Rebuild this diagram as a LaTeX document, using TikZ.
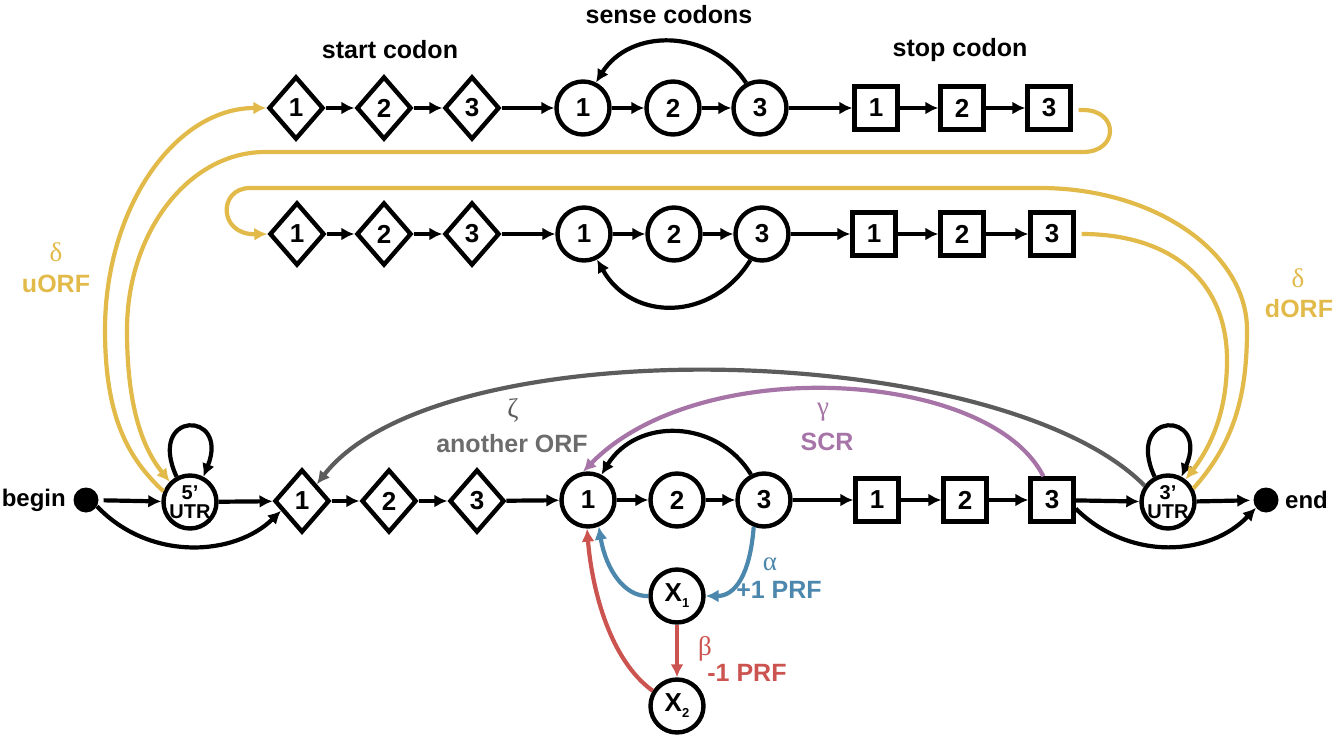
\documentclass[tikz,border=0pt]{standalone}
\usepackage{fontspec}
\setmainfont{Liberation Sans}
\newfontfamily\grk{Liberation Serif}
\usetikzlibrary{shapes.geometric,arrows.meta}
\definecolor{cy}{RGB}{226,186,74}
\definecolor{cg}{RGB}{92,92,92}
\definecolor{cp}{RGB}{166,116,166}
\definecolor{cb}{RGB}{76,135,174}
\definecolor{cr}{RGB}{204,84,80}
\begin{document}
\begin{tikzpicture}[x=1pt,y=-1pt,
  base/.style={draw, line width=4.4pt, inner sep=0pt, font=\fontsize{26}{26}\selectfont\bfseries},
  dia/.style={base, diamond, minimum width=55pt, minimum height=63pt},
  circ/.style={base, circle, minimum size=53pt},
  sq/.style={base, rectangle, minimum size=43pt},
  utr/.style={base, circle, minimum size=53pt, align=center, font=\fontsize{20}{19}\selectfont\bfseries},
  dot/.style={circle, fill, minimum size=25pt, inner sep=0pt},
  tip/.tip={Latex[length=13pt,width=13pt]},
  ar/.style={-tip, line width=4.2pt},
  yl/.style={line width=4.2pt, color=cy},
  lbl/.style={inner sep=0pt, font=\fontsize{25}{25}\selectfont\bfseries},
  glbl/.style={inner sep=0pt, font=\fontsize{27}{27}\selectfont\grk},
]
\useasboundingbox (0,0) rectangle (1333,738);

% row 1
\node[dia] (r1d1) at (296,108) {1};
\node[dia] (r1d2) at (384,108) {2};
\node[dia] (r1d3) at (472,108) {3};
\node[circ] (r1c1) at (583,108) {1};
\node[circ] (r1c2) at (673,108) {2};
\node[circ] (r1c3) at (760,108) {3};
\node[sq] (r1s1) at (876,108) {1};
\node[sq] (r1s2) at (962,108) {2};
\node[sq] (r1s3) at (1049,108) {3};
% row 2
\node[dia] (r2d1) at (297,234) {1};
\node[dia] (r2d2) at (384,234) {2};
\node[dia] (r2d3) at (472,234) {3};
\node[circ] (r2c1) at (584,234) {1};
\node[circ] (r2c2) at (674,234) {2};
\node[circ] (r2c3) at (762,234) {3};
\node[sq] (r2s1) at (874,234) {1};
\node[sq] (r2s2) at (962,234) {2};
\node[sq] (r2s3) at (1052,234) {3};
% row 3
\node[dot] (begin) at (86,500) {};
\node[utr] (utr5) at (190,502) {5’\\UTR};
\node[dia] (r3d1) at (302,501) {1};
\node[dia] (r3d2) at (389,501) {2};
\node[dia] (r3d3) at (477,501) {3};
\node[circ] (r3c1) at (588,500) {1};
\node[circ] (r3c2) at (677,500) {2};
\node[circ] (r3c3) at (764,500) {3};
\node[sq] (r3s1) at (877,500) {1};
\node[sq] (r3s2) at (965,500) {2};
\node[sq] (r3s3) at (1052,500) {3};
\node[utr] (utr3) at (1168,502) {3’\\UTR};
\node[dot] (end) at (1266,500) {};
\node[circ] (x1) at (677,596) {X\raisebox{-6pt}{\fontsize{13}{13}\selectfont 1}};
\node[circ] (x2) at (677,706) {X\raisebox{-6pt}{\fontsize{13}{13}\selectfont 2}};

% labels
\node[lbl] (tstart) at (390,50) {start codon};
\node[lbl] (tsense) at (669,15) {sense codons};
\node[lbl] (tstop) at (960,50) {stop codon};
\node[lbl, anchor=east, font=\fontsize{24}{24}\selectfont\bfseries] (tbegin) at (66,500) {begin};
\node[lbl, anchor=west, font=\fontsize{24}{24}\selectfont\bfseries] (tend) at (1285,500) {end};
\node[glbl, text=cy] (gd1) at (56,252) {δ};
\node[lbl, text=cy] (tuorf) at (56,284) {uORF};
\node[glbl, text=cy] (gd2) at (1298,278) {δ};
\node[lbl, text=cy] (tdorf) at (1299,309) {dORF};
\node[glbl, text=cg] (gz) at (513,410) {ζ};
\node[lbl, text=cg!90] (tanother) at (512,444) {another ORF};
\node[glbl, text=cp] (gg) at (823,412) {γ};
\node[lbl, text=cp] (tscr) at (827,442) {SCR};
\node[glbl, text=cb] (ga) at (770,564) {α};
\node[lbl, text=cb] (tprf1) at (779,590) {+1 PRF};
\node[glbl, text=cr] (gb) at (705,649) {β};
\node[lbl, text=cr] (tprf2) at (747,673) {-1 PRF};

% chains
\foreach \r in {1,2,3}{
  \draw[ar] (r\r d1) -- (r\r d2);
  \draw[ar] (r\r d2) -- (r\r d3);
  \draw[ar] (r\r d3) -- (r\r c1);
  \draw[ar] (r\r c1) -- (r\r c2);
  \draw[ar] (r\r c2) -- (r\r c3);
  \draw[ar] (r\r c3) -- (r\r s1);
  \draw[ar] (r\r s1) -- (r\r s2);
  \draw[ar] (r\r s2) -- (r\r s3);
}
% sense codon loops
\draw[ar] (r1c3.119) .. controls (710,28) and (630,28) .. (r1c1.63);
\draw[ar] (r2c3.-114) .. controls (712,322) and (632,322) .. (r2c1.-63);
\draw[ar] (r3c3.117) .. controls (716,418) and (636,418) .. (r3c1.62);

% row 3 extras
\draw[ar, shorten <=5pt] (begin) -- (utr5);
\draw[ar] (begin.-30) .. controls (150,562) and (235,556) .. (r3d1.205);
\draw[ar] (utr5) -- (r3d1);
\draw[ar] (utr5.118) .. controls (146,410) and (230,410) .. (utr5.62);
\draw[ar] (r3s3) -- (utr3);
\draw[ar] (r3s3.-20) .. controls (1130,562) and (1210,556) .. (end.218);
\draw[ar, shorten >=3pt] (utr3) -- (end);
\draw[ar] (utr3.118) .. controls (1124,410) and (1210,410) .. (utr3.62);

% zeta
\draw[ar, color=cg] (utr3.145) .. controls (1000,340) and (440,326) .. (r3d1.north east);
% gamma
\draw[ar, color=cp] (r3s3.110) .. controls (990,370) and (700,352) .. (r3c1.100);
% alpha
\draw[ar, color=cb] (r3c3.-111) .. controls (750,575) and (735,596) .. (x1.east);
\draw[ar, color=cb] (x1.west) .. controls (625,597) and (606,570) .. (r3c1.-68);
% beta
\draw[ar, color=cr] (x1) -- (x2);
\draw[ar, color=cr] (x2.148) .. controls (610,660) and (592,590) .. (r3c1.-92);

% yellow
\coordinate (ya) at (105,330);
\draw[yl, -tip] (utr5.158) .. controls (130,460) and (105,420) .. (ya)
   .. controls (105,208) and (175,108) .. (r1d1.west);
\coordinate (yb1) at (1083,110);
\coordinate (yb2) at (1083,152);
\coordinate (yb3) at (265,152);
\coordinate (yb4) at (127,330);
\draw[yl, -tip] (r1s3.east) ++(6,2) coordinate (yb0) -- (yb1)
   .. controls (1119,110) and (1119,152) .. (yb2) -- (yb3)
   .. controls (189,152) and (127,232) .. (yb4)
   .. controls (127,400) and (140,445) .. (utr5.135);
\coordinate (yc1) at (1247,330);
\coordinate (yc2) at (1040,188);
\coordinate (yc3) at (250,188);
\draw[yl, -tip] (utr3.28) .. controls (1232,445) and (1247,400) .. (yc1)
   .. controls (1247,252) and (1154,188) .. (yc2) -- (yc3)
   .. controls (218,188) and (218,235) .. (r2d1.west);
\coordinate (yd1) at (1227,360);
\draw[yl, -tip] (r2s3.east) ++(6,0) coordinate (yd0)
   .. controls (1170,234) and (1227,280) .. (yd1)
   .. controls (1227,410) and (1212,445) .. (utr3.52);
\end{tikzpicture}
\end{document}
